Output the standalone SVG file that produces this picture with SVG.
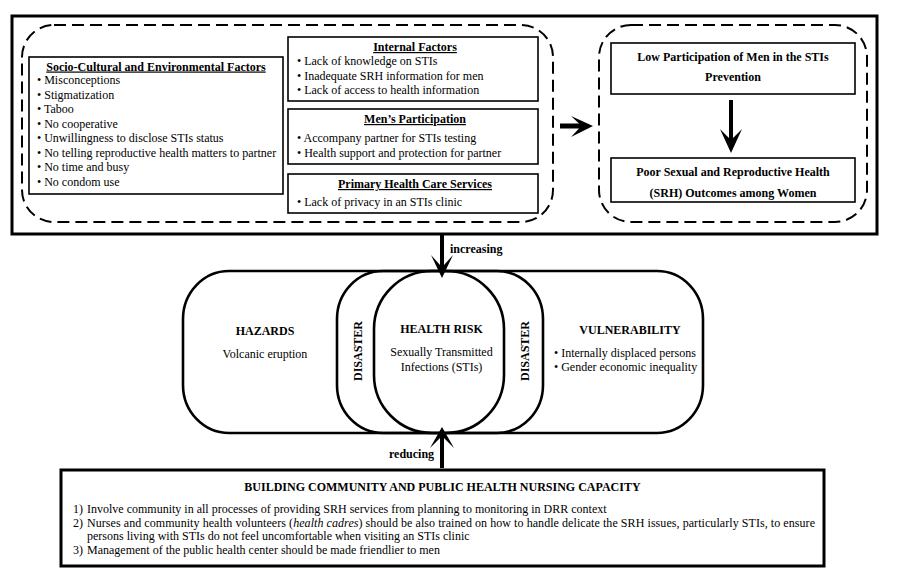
<svg xmlns="http://www.w3.org/2000/svg" width="900" height="582" viewBox="0 0 900 582">
<style>
text{font-family:"Liberation Serif","Times New Roman",serif;font-size:12px;fill:#000}
.b{font-weight:bold}
.u{text-decoration:underline}
.m{text-anchor:middle}
.thick{fill:none;stroke:#000;stroke-width:3}
.box{fill:#fff;stroke:#000;stroke-width:1.6}
.dash{fill:none;stroke:#000;stroke-width:2;stroke-dasharray:12 6}
.ring{fill:none;stroke:#000;stroke-width:2.6}
.arr{fill:#000;stroke:none}
</style>
<rect width="900" height="582" fill="#fff"/>
<g id="top-frame"><rect class="thick" x="12" y="16" width="865" height="218"/></g>
<g id="causes-group"><rect class="dash" x="22" y="25" width="531" height="197" rx="32"/></g>
<g id="socio-cultural">
<rect class="box" x="29" y="57" width="254" height="137"/>
<text class="b u m" x="156" y="70.5">Socio-Cultural and Environmental Factors</text>
<text x="37" y="84">• Misconceptions</text>
<text x="37" y="98.5">• Stigmatization</text>
<text x="37" y="113">• Taboo</text>
<text x="37" y="127.6">• No cooperative</text>
<text x="37" y="142.2">• Unwillingness to disclose STIs status</text>
<text x="37" y="156.8">• No telling reproductive health matters to partner</text>
<text x="37" y="171.3">• No time and busy</text>
<text x="37" y="185.8">• No condom use</text>
</g>
<g id="internal-factors">
<rect class="box" x="288" y="37" width="250" height="64"/>
<text class="b u m" x="415" y="51">Internal Factors</text>
<text x="297" y="65">• Lack of knowledge on STIs</text>
<text x="297" y="79.5">• Inadequate SRH information for men</text>
<text x="297" y="94">• Lack of access to health information</text>
</g>
<g id="mens-participation">
<rect class="box" x="288" y="109" width="250" height="55"/>
<text class="b u m" x="415" y="123">Men’s Participation</text>
<text x="297" y="141.5">• Accompany partner for STIs testing</text>
<text x="297" y="157">• Health support and protection for partner</text>
</g>
<g id="primary-health-care">
<rect class="box" x="288" y="174" width="250" height="39"/>
<text class="b u m" x="415" y="188">Primary Health Care Services</text>
<text x="297" y="206">• Lack of privacy in an STIs clinic</text>
</g>
<g id="outcomes-group"><rect class="dash" x="599" y="25" width="268" height="197" rx="32"/></g>
<g id="low-participation">
<rect class="box" x="611" y="43" width="244" height="51"/>
<text class="b m" x="733" y="61">Low Participation of Men in the STIs</text>
<text class="b m" x="733" y="81">Prevention</text>
</g>
<g id="poor-srh">
<rect class="box" x="611" y="158" width="244" height="44"/>
<text class="b m" x="733" y="176">Poor Sexual and Reproductive Health</text>
<text class="b m" x="733" y="197">(SRH) Outcomes among Women</text>
</g>
<g id="hazards">
<rect class="ring" x="183" y="271" width="360" height="162" rx="46" ry="48"/>
<text class="b m" x="265" y="335">HAZARDS</text>
<text class="m" x="265" y="358">Volcanic eruption</text>
</g>
<g id="vulnerability">
<rect class="ring" x="337" y="271" width="366" height="162" rx="46" ry="48"/>
<text class="b m" x="630" y="334">VULNERABILITY</text>
<text x="554" y="357">• Internally displaced persons</text>
<text x="554" y="371">• Gender economic inequality</text>
</g>
<g id="health-risk">
<rect class="ring" x="374" y="271" width="130" height="162" rx="58" ry="58"/>
<text class="b m" x="441.5" y="333">HEALTH RISK</text>
<text class="m" x="441.5" y="356">Sexually Transmitted</text>
<text class="m" x="441.5" y="371">Infections (STIs)</text>
</g>
<g id="disaster-left"><text class="b m" transform="translate(362,351) rotate(-90)">DISASTER</text></g>
<g id="disaster-right"><text class="b m" transform="translate(529,351) rotate(-90)">DISASTER</text></g>
<g id="capacity">
<rect class="thick" x="61" y="470" width="763" height="96"/>
<text class="b m" x="442.5" y="491">BUILDING COMMUNITY AND PUBLIC HEALTH NURSING CAPACITY</text>
<text x="73" y="513">1)</text>
<text x="87" y="513">Involve community in all processes of providing SRH services from planning to monitoring in DRR context</text>
<text x="73" y="527">2)</text>
<text x="87" y="527" textLength="728" lengthAdjust="spacing">Nurses and community health volunteers (<tspan font-style="italic">health cadres</tspan>) should be also trained on how to handle delicate the SRH issues, particularly STIs, to ensure</text>
<text x="87" y="540">persons living with STIs do not feel uncomfortable when visiting an STIs clinic</text>
<text x="73" y="554">3)</text>
<text x="87" y="554">Management of the public health center should be made friendlier to men</text>
</g>
<g id="connectors">
<path class="arr" d="M560,123.5 L579,123.5 L571,116 L593,126 L571,137 L579,128.5 L560,128.5 Z"/>
<path class="arr" d="M729,100 L733,100 L733,138 L742,129 L731,153 L720,129 L729,138 Z"/>
<path class="arr" d="M440,234 L444,234 L444,265 L453,255 L442,278 L431,255 L440,265 Z"/>
<path class="arr" d="M440,468 L444,468 L444,438 L454,448 L442,427 L430,448 L440,438 Z"/>
<text class="b" x="450" y="253">increasing</text>
<text class="b" x="389" y="458">reducing</text>
</g>
</svg>
